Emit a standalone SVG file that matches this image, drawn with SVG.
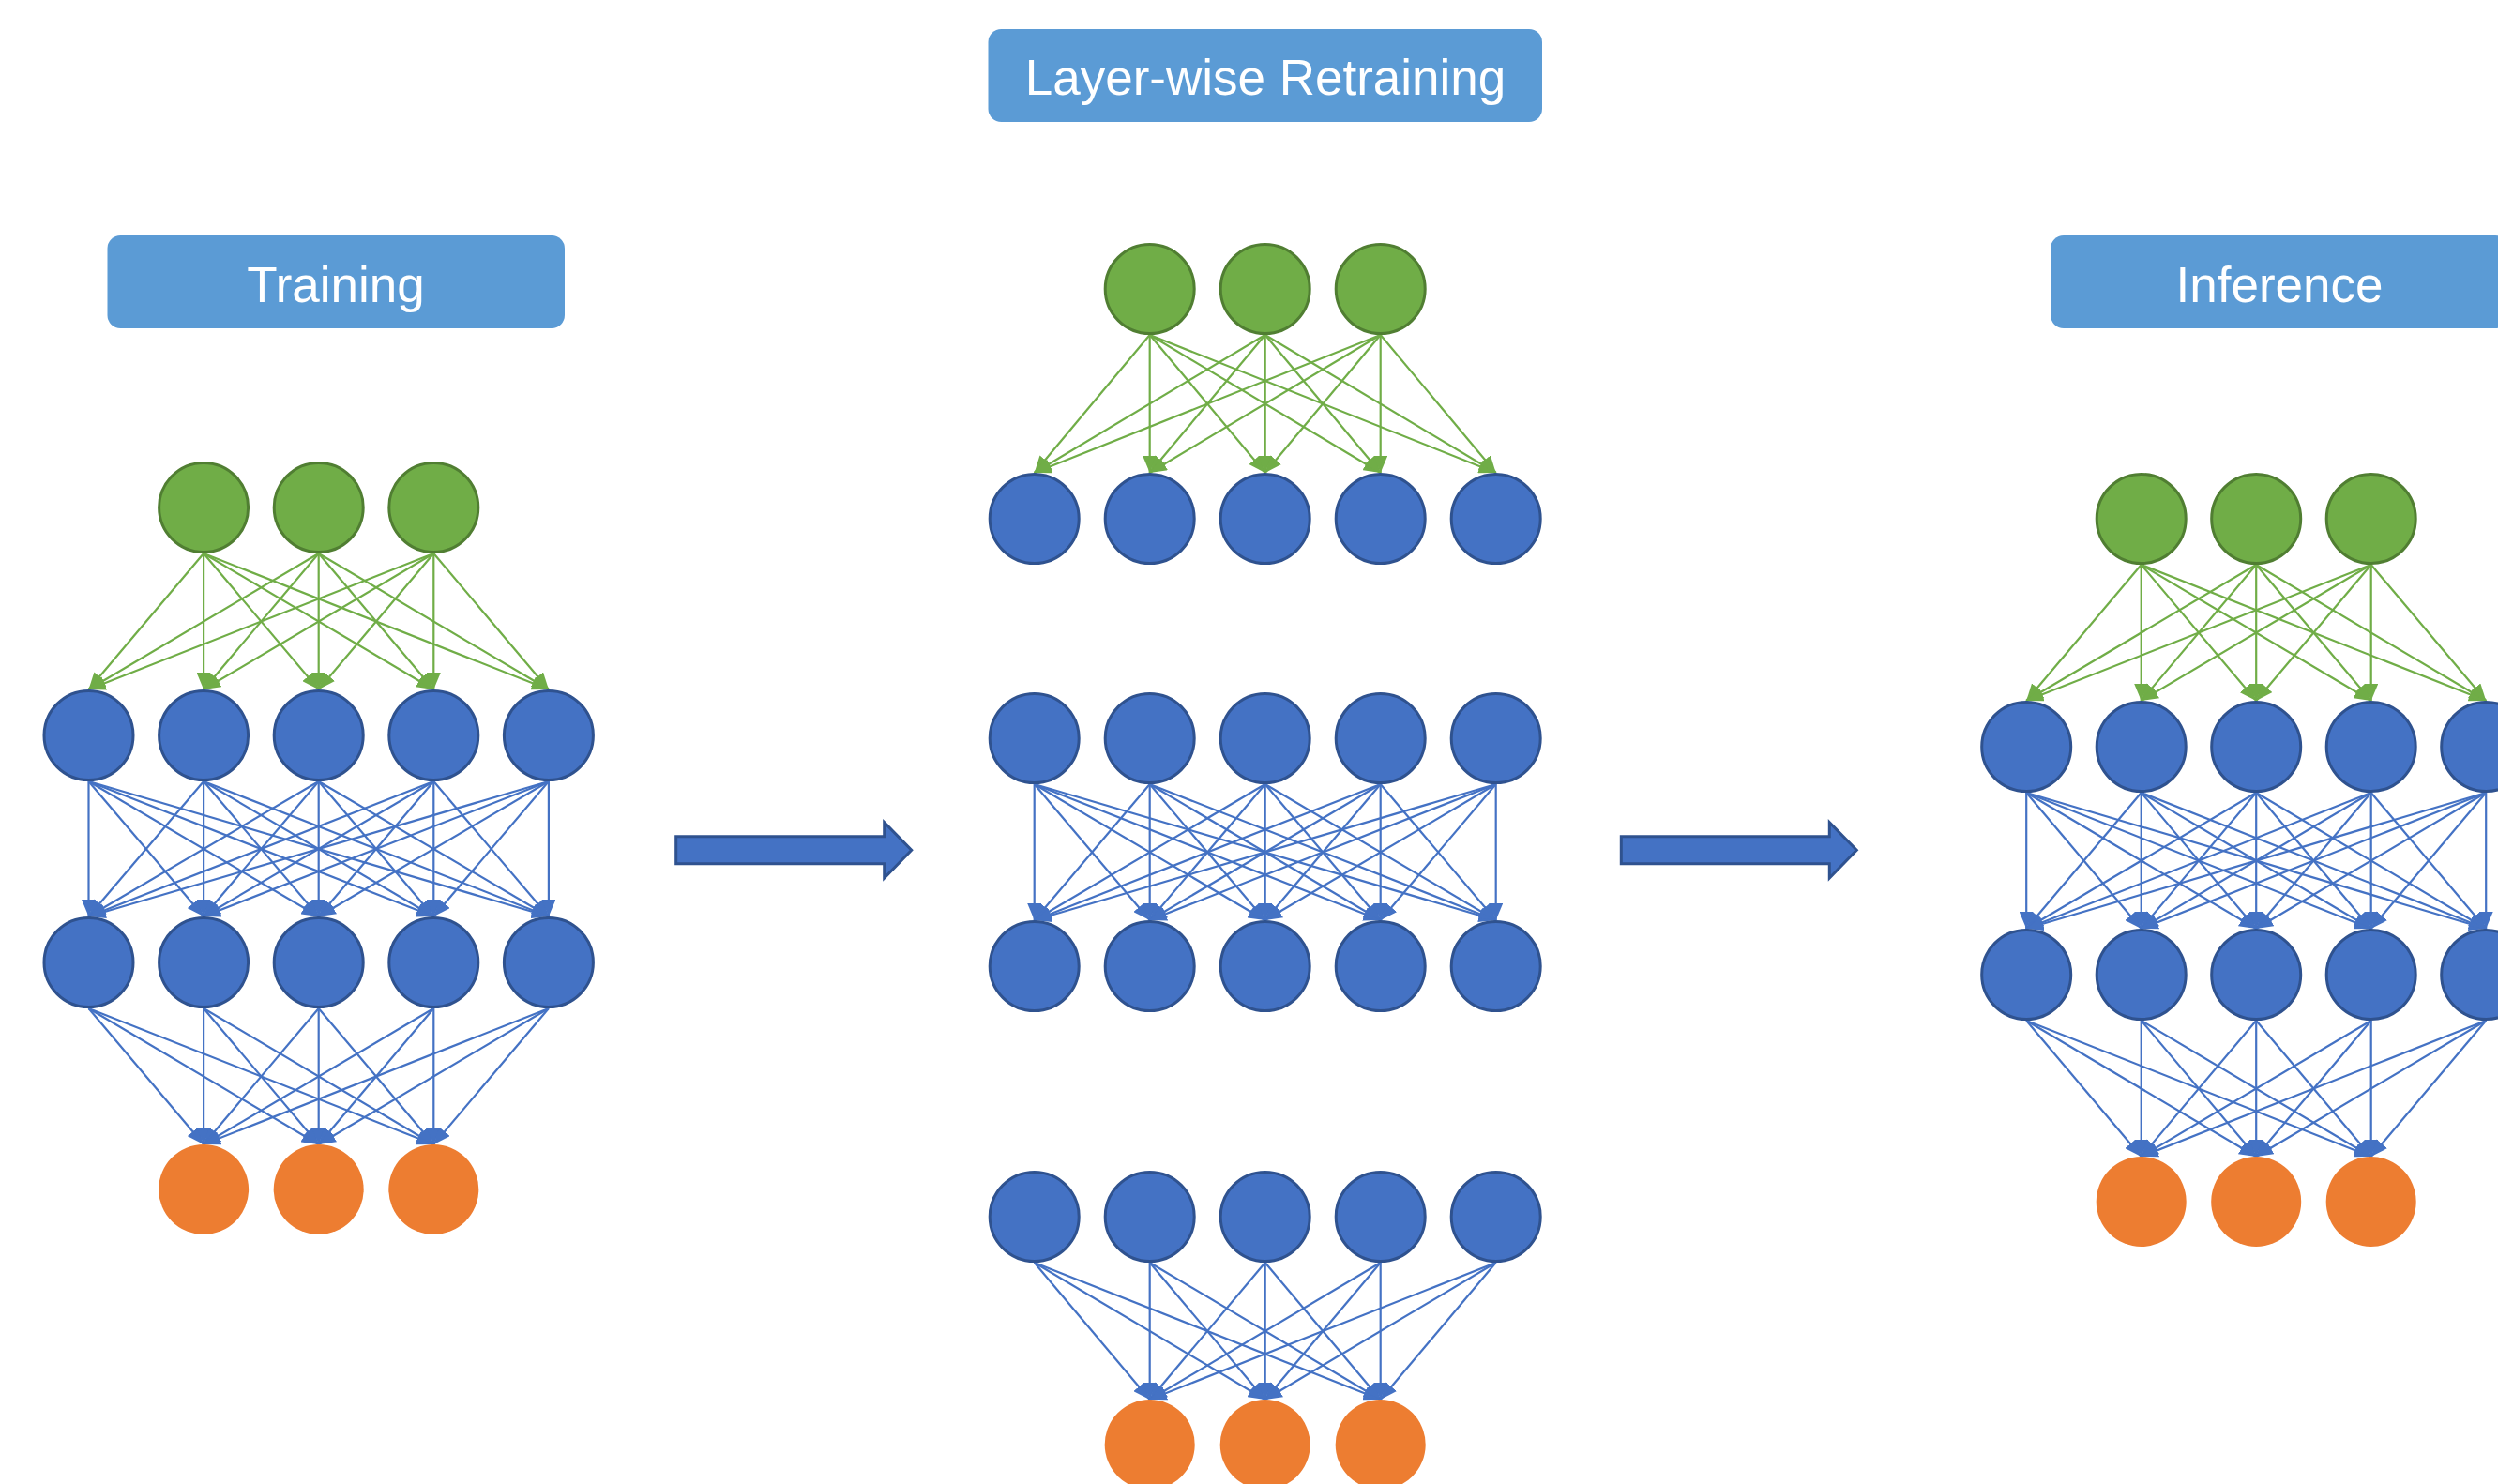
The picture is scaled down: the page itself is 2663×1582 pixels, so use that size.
<svg xmlns="http://www.w3.org/2000/svg" width="2663" height="1582" viewBox="0 0 2663 1582">
<style>
.title{fill:#5B9BD5}
.tt{fill:#FFFFFF;font-family:"Liberation Sans",Arial,sans-serif;font-size:53px;text-anchor:middle}
.gn{fill:#70AD47;stroke:#507E32;stroke-width:3}
.bn{fill:#4472C4;stroke:#2F528F;stroke-width:3}
.on{fill:#ED7D31}
.ge{stroke:#70AD47;stroke-width:2.2;fill:none;marker-end:url(#ag)}
.be{stroke:#4472C4;stroke-width:2.2;fill:none;marker-end:url(#ab)}
.big{fill:#4472C4;stroke:#2F528F;stroke-width:3;stroke-linejoin:miter}
</style>
<defs>
<marker id="ag" viewBox="0 0 18 15" refX="18" refY="7.5" markerWidth="18" markerHeight="15" markerUnits="userSpaceOnUse" orient="auto"><path d="M0,0 L18,7.5 L0,15 z" fill="#70AD47"/></marker>
<marker id="ab" viewBox="0 0 18 15" refX="18" refY="7.5" markerWidth="18" markerHeight="15" markerUnits="userSpaceOnUse" orient="auto"><path d="M0,0 L18,7.5 L0,15 z" fill="#4472C4"/></marker>
</defs>
<rect width="2663" height="1582" fill="#FFFFFF"/>

<g id="title-training"><rect class="title" x="114.5" y="251" width="487.5" height="99" rx="14"/><text class="tt" x="358" y="322">Training</text></g>
<g id="title-retraining"><rect class="title" x="1053.5" y="31" width="590.5" height="99" rx="14"/><text class="tt" x="1349" y="101">Layer-wise Retraining</text></g>
<g id="title-inference"><rect class="title" x="2186" y="251" width="488" height="99" rx="14"/><text class="tt" x="2430" y="322">Inference</text></g>

<g id="connectors">
<!-- Training: input -> hidden1 -->
<line class="ge" x1="217.1" y1="590" x2="94.5" y2="735"/>
<line class="ge" x1="217.1" y1="590" x2="217.1" y2="735"/>
<line class="ge" x1="217.1" y1="590" x2="339.7" y2="735"/>
<line class="ge" x1="217.1" y1="590" x2="462.3" y2="735"/>
<line class="ge" x1="217.1" y1="590" x2="584.9" y2="735"/>
<line class="ge" x1="339.7" y1="590" x2="94.5" y2="735"/>
<line class="ge" x1="339.7" y1="590" x2="217.1" y2="735"/>
<line class="ge" x1="339.7" y1="590" x2="339.7" y2="735"/>
<line class="ge" x1="339.7" y1="590" x2="462.3" y2="735"/>
<line class="ge" x1="339.7" y1="590" x2="584.9" y2="735"/>
<line class="ge" x1="462.3" y1="590" x2="94.5" y2="735"/>
<line class="ge" x1="462.3" y1="590" x2="217.1" y2="735"/>
<line class="ge" x1="462.3" y1="590" x2="339.7" y2="735"/>
<line class="ge" x1="462.3" y1="590" x2="462.3" y2="735"/>
<line class="ge" x1="462.3" y1="590" x2="584.9" y2="735"/>
<!-- Training: hidden1 -> hidden2 -->
<line class="be" x1="94.5" y1="833" x2="94.5" y2="977"/>
<line class="be" x1="94.5" y1="833" x2="217.1" y2="977"/>
<line class="be" x1="94.5" y1="833" x2="339.7" y2="977"/>
<line class="be" x1="94.5" y1="833" x2="462.3" y2="977"/>
<line class="be" x1="94.5" y1="833" x2="584.9" y2="977"/>
<line class="be" x1="217.1" y1="833" x2="94.5" y2="977"/>
<line class="be" x1="217.1" y1="833" x2="217.1" y2="977"/>
<line class="be" x1="217.1" y1="833" x2="339.7" y2="977"/>
<line class="be" x1="217.1" y1="833" x2="462.3" y2="977"/>
<line class="be" x1="217.1" y1="833" x2="584.9" y2="977"/>
<line class="be" x1="339.7" y1="833" x2="94.5" y2="977"/>
<line class="be" x1="339.7" y1="833" x2="217.1" y2="977"/>
<line class="be" x1="339.7" y1="833" x2="339.7" y2="977"/>
<line class="be" x1="339.7" y1="833" x2="462.3" y2="977"/>
<line class="be" x1="339.7" y1="833" x2="584.9" y2="977"/>
<line class="be" x1="462.3" y1="833" x2="94.5" y2="977"/>
<line class="be" x1="462.3" y1="833" x2="217.1" y2="977"/>
<line class="be" x1="462.3" y1="833" x2="339.7" y2="977"/>
<line class="be" x1="462.3" y1="833" x2="462.3" y2="977"/>
<line class="be" x1="462.3" y1="833" x2="584.9" y2="977"/>
<line class="be" x1="584.9" y1="833" x2="94.5" y2="977"/>
<line class="be" x1="584.9" y1="833" x2="217.1" y2="977"/>
<line class="be" x1="584.9" y1="833" x2="339.7" y2="977"/>
<line class="be" x1="584.9" y1="833" x2="462.3" y2="977"/>
<line class="be" x1="584.9" y1="833" x2="584.9" y2="977"/>
<!-- Training: hidden2 -> output -->
<line class="be" x1="94.5" y1="1075" x2="217.1" y2="1220"/>
<line class="be" x1="94.5" y1="1075" x2="339.7" y2="1220"/>
<line class="be" x1="94.5" y1="1075" x2="462.3" y2="1220"/>
<line class="be" x1="217.1" y1="1075" x2="217.1" y2="1220"/>
<line class="be" x1="217.1" y1="1075" x2="339.7" y2="1220"/>
<line class="be" x1="217.1" y1="1075" x2="462.3" y2="1220"/>
<line class="be" x1="339.7" y1="1075" x2="217.1" y2="1220"/>
<line class="be" x1="339.7" y1="1075" x2="339.7" y2="1220"/>
<line class="be" x1="339.7" y1="1075" x2="462.3" y2="1220"/>
<line class="be" x1="462.3" y1="1075" x2="217.1" y2="1220"/>
<line class="be" x1="462.3" y1="1075" x2="339.7" y2="1220"/>
<line class="be" x1="462.3" y1="1075" x2="462.3" y2="1220"/>
<line class="be" x1="584.9" y1="1075" x2="217.1" y2="1220"/>
<line class="be" x1="584.9" y1="1075" x2="339.7" y2="1220"/>
<line class="be" x1="584.9" y1="1075" x2="462.3" y2="1220"/>

<!-- Retraining A: input -> hidden -->
<line class="ge" x1="1225.7" y1="357" x2="1102.7" y2="504"/>
<line class="ge" x1="1225.7" y1="357" x2="1225.7" y2="504"/>
<line class="ge" x1="1225.7" y1="357" x2="1348.7" y2="504"/>
<line class="ge" x1="1225.7" y1="357" x2="1471.7" y2="504"/>
<line class="ge" x1="1225.7" y1="357" x2="1594.7" y2="504"/>
<line class="ge" x1="1348.7" y1="357" x2="1102.7" y2="504"/>
<line class="ge" x1="1348.7" y1="357" x2="1225.7" y2="504"/>
<line class="ge" x1="1348.7" y1="357" x2="1348.7" y2="504"/>
<line class="ge" x1="1348.7" y1="357" x2="1471.7" y2="504"/>
<line class="ge" x1="1348.7" y1="357" x2="1594.7" y2="504"/>
<line class="ge" x1="1471.7" y1="357" x2="1102.7" y2="504"/>
<line class="ge" x1="1471.7" y1="357" x2="1225.7" y2="504"/>
<line class="ge" x1="1471.7" y1="357" x2="1348.7" y2="504"/>
<line class="ge" x1="1471.7" y1="357" x2="1471.7" y2="504"/>
<line class="ge" x1="1471.7" y1="357" x2="1594.7" y2="504"/>
<!-- Retraining B: hidden -> hidden -->
<line class="be" x1="1102.7" y1="836" x2="1102.7" y2="981"/>
<line class="be" x1="1102.7" y1="836" x2="1225.7" y2="981"/>
<line class="be" x1="1102.7" y1="836" x2="1348.7" y2="981"/>
<line class="be" x1="1102.7" y1="836" x2="1471.7" y2="981"/>
<line class="be" x1="1102.7" y1="836" x2="1594.7" y2="981"/>
<line class="be" x1="1225.7" y1="836" x2="1102.7" y2="981"/>
<line class="be" x1="1225.7" y1="836" x2="1225.7" y2="981"/>
<line class="be" x1="1225.7" y1="836" x2="1348.7" y2="981"/>
<line class="be" x1="1225.7" y1="836" x2="1471.7" y2="981"/>
<line class="be" x1="1225.7" y1="836" x2="1594.7" y2="981"/>
<line class="be" x1="1348.7" y1="836" x2="1102.7" y2="981"/>
<line class="be" x1="1348.7" y1="836" x2="1225.7" y2="981"/>
<line class="be" x1="1348.7" y1="836" x2="1348.7" y2="981"/>
<line class="be" x1="1348.7" y1="836" x2="1471.7" y2="981"/>
<line class="be" x1="1348.7" y1="836" x2="1594.7" y2="981"/>
<line class="be" x1="1471.7" y1="836" x2="1102.7" y2="981"/>
<line class="be" x1="1471.7" y1="836" x2="1225.7" y2="981"/>
<line class="be" x1="1471.7" y1="836" x2="1348.7" y2="981"/>
<line class="be" x1="1471.7" y1="836" x2="1471.7" y2="981"/>
<line class="be" x1="1471.7" y1="836" x2="1594.7" y2="981"/>
<line class="be" x1="1594.7" y1="836" x2="1102.7" y2="981"/>
<line class="be" x1="1594.7" y1="836" x2="1225.7" y2="981"/>
<line class="be" x1="1594.7" y1="836" x2="1348.7" y2="981"/>
<line class="be" x1="1594.7" y1="836" x2="1471.7" y2="981"/>
<line class="be" x1="1594.7" y1="836" x2="1594.7" y2="981"/>
<!-- Retraining C: hidden -> output -->
<line class="be" x1="1102.7" y1="1346" x2="1225.7" y2="1492"/>
<line class="be" x1="1102.7" y1="1346" x2="1348.7" y2="1492"/>
<line class="be" x1="1102.7" y1="1346" x2="1471.7" y2="1492"/>
<line class="be" x1="1225.7" y1="1346" x2="1225.7" y2="1492"/>
<line class="be" x1="1225.7" y1="1346" x2="1348.7" y2="1492"/>
<line class="be" x1="1225.7" y1="1346" x2="1471.7" y2="1492"/>
<line class="be" x1="1348.7" y1="1346" x2="1225.7" y2="1492"/>
<line class="be" x1="1348.7" y1="1346" x2="1348.7" y2="1492"/>
<line class="be" x1="1348.7" y1="1346" x2="1471.7" y2="1492"/>
<line class="be" x1="1471.7" y1="1346" x2="1225.7" y2="1492"/>
<line class="be" x1="1471.7" y1="1346" x2="1348.7" y2="1492"/>
<line class="be" x1="1471.7" y1="1346" x2="1471.7" y2="1492"/>
<line class="be" x1="1594.7" y1="1346" x2="1225.7" y2="1492"/>
<line class="be" x1="1594.7" y1="1346" x2="1348.7" y2="1492"/>
<line class="be" x1="1594.7" y1="1346" x2="1471.7" y2="1492"/>

<!-- Inference: input -> hidden1 -->
<line class="ge" x1="2282.7" y1="602" x2="2160.2" y2="747"/>
<line class="ge" x1="2282.7" y1="602" x2="2282.7" y2="747"/>
<line class="ge" x1="2282.7" y1="602" x2="2405.2" y2="747"/>
<line class="ge" x1="2282.7" y1="602" x2="2527.7" y2="747"/>
<line class="ge" x1="2282.7" y1="602" x2="2650.2" y2="747"/>
<line class="ge" x1="2405.2" y1="602" x2="2160.2" y2="747"/>
<line class="ge" x1="2405.2" y1="602" x2="2282.7" y2="747"/>
<line class="ge" x1="2405.2" y1="602" x2="2405.2" y2="747"/>
<line class="ge" x1="2405.2" y1="602" x2="2527.7" y2="747"/>
<line class="ge" x1="2405.2" y1="602" x2="2650.2" y2="747"/>
<line class="ge" x1="2527.7" y1="602" x2="2160.2" y2="747"/>
<line class="ge" x1="2527.7" y1="602" x2="2282.7" y2="747"/>
<line class="ge" x1="2527.7" y1="602" x2="2405.2" y2="747"/>
<line class="ge" x1="2527.7" y1="602" x2="2527.7" y2="747"/>
<line class="ge" x1="2527.7" y1="602" x2="2650.2" y2="747"/>
<!-- Inference: hidden1 -> hidden2 -->
<line class="be" x1="2160.2" y1="845" x2="2160.2" y2="990"/>
<line class="be" x1="2160.2" y1="845" x2="2282.7" y2="990"/>
<line class="be" x1="2160.2" y1="845" x2="2405.2" y2="990"/>
<line class="be" x1="2160.2" y1="845" x2="2527.7" y2="990"/>
<line class="be" x1="2160.2" y1="845" x2="2650.2" y2="990"/>
<line class="be" x1="2282.7" y1="845" x2="2160.2" y2="990"/>
<line class="be" x1="2282.7" y1="845" x2="2282.7" y2="990"/>
<line class="be" x1="2282.7" y1="845" x2="2405.2" y2="990"/>
<line class="be" x1="2282.7" y1="845" x2="2527.7" y2="990"/>
<line class="be" x1="2282.7" y1="845" x2="2650.2" y2="990"/>
<line class="be" x1="2405.2" y1="845" x2="2160.2" y2="990"/>
<line class="be" x1="2405.2" y1="845" x2="2282.7" y2="990"/>
<line class="be" x1="2405.2" y1="845" x2="2405.2" y2="990"/>
<line class="be" x1="2405.2" y1="845" x2="2527.7" y2="990"/>
<line class="be" x1="2405.2" y1="845" x2="2650.2" y2="990"/>
<line class="be" x1="2527.7" y1="845" x2="2160.2" y2="990"/>
<line class="be" x1="2527.7" y1="845" x2="2282.7" y2="990"/>
<line class="be" x1="2527.7" y1="845" x2="2405.2" y2="990"/>
<line class="be" x1="2527.7" y1="845" x2="2527.7" y2="990"/>
<line class="be" x1="2527.7" y1="845" x2="2650.2" y2="990"/>
<line class="be" x1="2650.2" y1="845" x2="2160.2" y2="990"/>
<line class="be" x1="2650.2" y1="845" x2="2282.7" y2="990"/>
<line class="be" x1="2650.2" y1="845" x2="2405.2" y2="990"/>
<line class="be" x1="2650.2" y1="845" x2="2527.7" y2="990"/>
<line class="be" x1="2650.2" y1="845" x2="2650.2" y2="990"/>
<!-- Inference: hidden2 -> output -->
<line class="be" x1="2160.2" y1="1088" x2="2282.7" y2="1233"/>
<line class="be" x1="2160.2" y1="1088" x2="2405.2" y2="1233"/>
<line class="be" x1="2160.2" y1="1088" x2="2527.7" y2="1233"/>
<line class="be" x1="2282.7" y1="1088" x2="2282.7" y2="1233"/>
<line class="be" x1="2282.7" y1="1088" x2="2405.2" y2="1233"/>
<line class="be" x1="2282.7" y1="1088" x2="2527.7" y2="1233"/>
<line class="be" x1="2405.2" y1="1088" x2="2282.7" y2="1233"/>
<line class="be" x1="2405.2" y1="1088" x2="2405.2" y2="1233"/>
<line class="be" x1="2405.2" y1="1088" x2="2527.7" y2="1233"/>
<line class="be" x1="2527.7" y1="1088" x2="2282.7" y2="1233"/>
<line class="be" x1="2527.7" y1="1088" x2="2405.2" y2="1233"/>
<line class="be" x1="2527.7" y1="1088" x2="2527.7" y2="1233"/>
<line class="be" x1="2650.2" y1="1088" x2="2282.7" y2="1233"/>
<line class="be" x1="2650.2" y1="1088" x2="2405.2" y2="1233"/>
<line class="be" x1="2650.2" y1="1088" x2="2527.7" y2="1233"/>
</g>

<g id="arrow-1"><path class="big" d="M720.7,891.7 H942.7 V876.7 L971.7,906.3 L942.7,936 V920.7 H720.7 Z"/></g>
<g id="arrow-2"><path class="big" d="M1728.3,891.7 H1950.3 V876.7 L1979.3,906.3 L1950.3,936 V920.7 H1728.3 Z"/></g>

<!-- Training nodes -->
<g id="tr-in-1"><circle class="gn" cx="217.1" cy="541" r="47.5"/></g>
<g id="tr-in-2"><circle class="gn" cx="339.7" cy="541" r="47.5"/></g>
<g id="tr-in-3"><circle class="gn" cx="462.3" cy="541" r="47.5"/></g>
<g id="tr-h1-1"><circle class="bn" cx="94.5" cy="784" r="47.5"/></g>
<g id="tr-h1-2"><circle class="bn" cx="217.1" cy="784" r="47.5"/></g>
<g id="tr-h1-3"><circle class="bn" cx="339.7" cy="784" r="47.5"/></g>
<g id="tr-h1-4"><circle class="bn" cx="462.3" cy="784" r="47.5"/></g>
<g id="tr-h1-5"><circle class="bn" cx="584.9" cy="784" r="47.5"/></g>
<g id="tr-h2-1"><circle class="bn" cx="94.5" cy="1026" r="47.5"/></g>
<g id="tr-h2-2"><circle class="bn" cx="217.1" cy="1026" r="47.5"/></g>
<g id="tr-h2-3"><circle class="bn" cx="339.7" cy="1026" r="47.5"/></g>
<g id="tr-h2-4"><circle class="bn" cx="462.3" cy="1026" r="47.5"/></g>
<g id="tr-h2-5"><circle class="bn" cx="584.9" cy="1026" r="47.5"/></g>
<g id="tr-out-1"><circle class="on" cx="217.1" cy="1268" r="48"/></g>
<g id="tr-out-2"><circle class="on" cx="339.7" cy="1268" r="48"/></g>
<g id="tr-out-3"><circle class="on" cx="462.3" cy="1268" r="48"/></g>

<!-- Retraining nodes -->
<g id="rt-a-in-1"><circle class="gn" cx="1225.7" cy="308" r="47.5"/></g>
<g id="rt-a-in-2"><circle class="gn" cx="1348.7" cy="308" r="47.5"/></g>
<g id="rt-a-in-3"><circle class="gn" cx="1471.7" cy="308" r="47.5"/></g>
<g id="rt-a-h-1"><circle class="bn" cx="1102.7" cy="553" r="47.5"/></g>
<g id="rt-a-h-2"><circle class="bn" cx="1225.7" cy="553" r="47.5"/></g>
<g id="rt-a-h-3"><circle class="bn" cx="1348.7" cy="553" r="47.5"/></g>
<g id="rt-a-h-4"><circle class="bn" cx="1471.7" cy="553" r="47.5"/></g>
<g id="rt-a-h-5"><circle class="bn" cx="1594.7" cy="553" r="47.5"/></g>
<g id="rt-b-h1-1"><circle class="bn" cx="1102.7" cy="787" r="47.5"/></g>
<g id="rt-b-h1-2"><circle class="bn" cx="1225.7" cy="787" r="47.5"/></g>
<g id="rt-b-h1-3"><circle class="bn" cx="1348.7" cy="787" r="47.5"/></g>
<g id="rt-b-h1-4"><circle class="bn" cx="1471.7" cy="787" r="47.5"/></g>
<g id="rt-b-h1-5"><circle class="bn" cx="1594.7" cy="787" r="47.5"/></g>
<g id="rt-b-h2-1"><circle class="bn" cx="1102.7" cy="1030" r="47.5"/></g>
<g id="rt-b-h2-2"><circle class="bn" cx="1225.7" cy="1030" r="47.5"/></g>
<g id="rt-b-h2-3"><circle class="bn" cx="1348.7" cy="1030" r="47.5"/></g>
<g id="rt-b-h2-4"><circle class="bn" cx="1471.7" cy="1030" r="47.5"/></g>
<g id="rt-b-h2-5"><circle class="bn" cx="1594.7" cy="1030" r="47.5"/></g>
<g id="rt-c-h-1"><circle class="bn" cx="1102.7" cy="1297" r="47.5"/></g>
<g id="rt-c-h-2"><circle class="bn" cx="1225.7" cy="1297" r="47.5"/></g>
<g id="rt-c-h-3"><circle class="bn" cx="1348.7" cy="1297" r="47.5"/></g>
<g id="rt-c-h-4"><circle class="bn" cx="1471.7" cy="1297" r="47.5"/></g>
<g id="rt-c-h-5"><circle class="bn" cx="1594.7" cy="1297" r="47.5"/></g>
<g id="rt-c-out-1"><circle class="on" cx="1225.7" cy="1540" r="48"/></g>
<g id="rt-c-out-2"><circle class="on" cx="1348.7" cy="1540" r="48"/></g>
<g id="rt-c-out-3"><circle class="on" cx="1471.7" cy="1540" r="48"/></g>

<!-- Inference nodes -->
<g id="in-in-1"><circle class="gn" cx="2282.7" cy="553" r="47.5"/></g>
<g id="in-in-2"><circle class="gn" cx="2405.2" cy="553" r="47.5"/></g>
<g id="in-in-3"><circle class="gn" cx="2527.7" cy="553" r="47.5"/></g>
<g id="in-h1-1"><circle class="bn" cx="2160.2" cy="796" r="47.5"/></g>
<g id="in-h1-2"><circle class="bn" cx="2282.7" cy="796" r="47.5"/></g>
<g id="in-h1-3"><circle class="bn" cx="2405.2" cy="796" r="47.5"/></g>
<g id="in-h1-4"><circle class="bn" cx="2527.7" cy="796" r="47.5"/></g>
<g id="in-h1-5"><circle class="bn" cx="2650.2" cy="796" r="47.5"/></g>
<g id="in-h2-1"><circle class="bn" cx="2160.2" cy="1039" r="47.5"/></g>
<g id="in-h2-2"><circle class="bn" cx="2282.7" cy="1039" r="47.5"/></g>
<g id="in-h2-3"><circle class="bn" cx="2405.2" cy="1039" r="47.5"/></g>
<g id="in-h2-4"><circle class="bn" cx="2527.7" cy="1039" r="47.5"/></g>
<g id="in-h2-5"><circle class="bn" cx="2650.2" cy="1039" r="47.5"/></g>
<g id="in-out-1"><circle class="on" cx="2282.7" cy="1281" r="48"/></g>
<g id="in-out-2"><circle class="on" cx="2405.2" cy="1281" r="48"/></g>
<g id="in-out-3"><circle class="on" cx="2527.7" cy="1281" r="48"/></g>
</svg>
